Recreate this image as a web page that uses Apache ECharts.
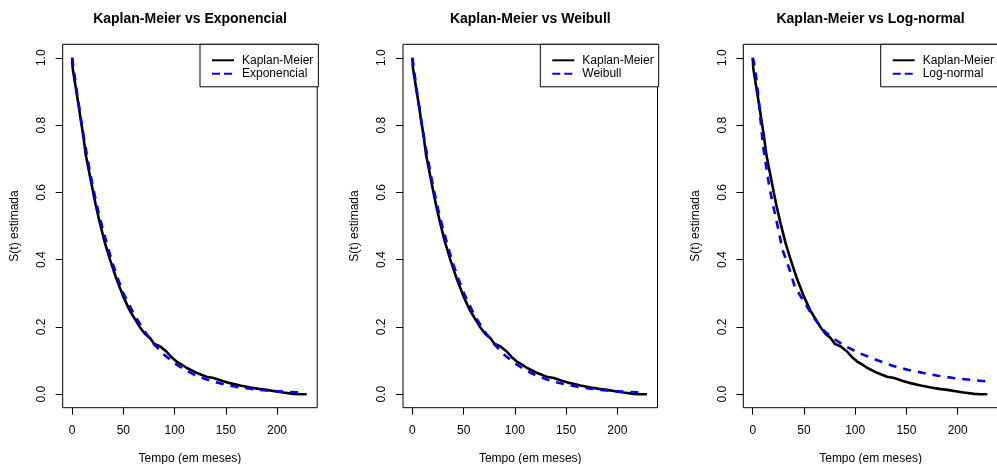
<!DOCTYPE html>
<html>
<head>
<meta charset="utf-8">
<script src="https://cdn.jsdelivr.net/npm/echarts@6/dist/echarts.min.js"></script>
<style>
  html, body { margin: 0; padding: 0; background: #fff; }
  #chart { width: 997px; height: 464px; }
</style>
</head>
<body>
<div id="chart"></div>
<script>
// Kaplan-Meier (mesmo em todos os painéis)
var kmTime = [0, 0.5, 1, 3.6, 6.8, 8.2, 10.8, 13.4, 17.3, 20.5, 23.2, 27, 32, 37, 43, 50, 56, 61, 66, 71, 76, 80, 86, 92, 97, 102, 107, 112, 122, 131, 138, 146, 154, 164, 174, 182, 190, 198, 206, 216, 222, 229];
var kmSurv = [1.0, 0.97, 0.96, 0.91, 0.85, 0.82, 0.77, 0.71, 0.65, 0.60, 0.56, 0.51, 0.45, 0.40, 0.345, 0.29, 0.25, 0.225, 0.20, 0.18, 0.167, 0.15, 0.142, 0.127, 0.11, 0.097, 0.088, 0.078, 0.063, 0.052, 0.048, 0.04, 0.033, 0.026, 0.020, 0.016, 0.013, 0.009, 0.005, 0.001, 0, 0];

// ajustes paramétricos
var fitTime = [0, 5, 10, 15, 20, 25, 30, 35, 40, 45, 50, 60, 70, 80, 90, 100, 110, 120, 130, 140, 150, 160, 170, 180, 190, 200, 210, 220, 227];
var expSurv = [1.0, 0.89, 0.79, 0.70, 0.62, 0.55, 0.49, 0.435, 0.385, 0.34, 0.30, 0.24, 0.19, 0.148, 0.117, 0.092, 0.073, 0.057, 0.045, 0.036, 0.028, 0.022, 0.018, 0.014, 0.011, 0.009, 0.007, 0.006, 0.005];
var weibSurv = [1.0, 0.885, 0.785, 0.70, 0.62, 0.55, 0.49, 0.435, 0.385, 0.342, 0.302, 0.238, 0.188, 0.148, 0.116, 0.092, 0.072, 0.057, 0.045, 0.036, 0.029, 0.023, 0.018, 0.014, 0.011, 0.009, 0.007, 0.006, 0.005];
var lnTime = [0, 1, 3, 5, 7.5, 10, 13, 16, 20, 25, 29, 36, 41, 49, 59, 69, 78, 91, 104, 121, 137, 152, 167, 181, 196, 212, 229];
var lnSurv = [1.0, 0.99, 0.95, 0.90, 0.82, 0.74, 0.68, 0.62, 0.56, 0.49, 0.43, 0.37, 0.32, 0.28, 0.23, 0.19, 0.167, 0.142, 0.122, 0.102, 0.084, 0.072, 0.063, 0.055, 0.048, 0.043, 0.038];

var titles = ["Kaplan-Meier vs Exponencial", "Kaplan-Meier vs Weibull", "Kaplan-Meier vs Log-normal"];
var fitNames = ["Exponencial", "Weibull", "Log-normal"];
var xTicks = [0, 50, 100, 150, 200];
var yTicks = [0, 0.2, 0.4, 0.6, 0.8, 1.0];

var gridLeft = [62.7, 403, 743.3];
var legendLeft = [200, 540.3, 880.7];
var font = "Liberation Sans, Arial, sans-serif";

function pairs(t, s) {
  var out = [];
  for (var i = 0; i < t.length; i++) out.push([t[i], s[i]]);
  return out;
}

var fits = [pairs(fitTime, expSurv), pairs(fitTime, weibSurv), pairs(lnTime, lnSurv)];
var km = pairs(kmTime, kmSurv);

var option = {
  animation: false,
  backgroundColor: "#fff",
  title: [], grid: [], xAxis: [], yAxis: [], legend: [], series: []
};

for (var p = 0; p < 3; p++) {
  option.title.push({
    text: titles[p], left: gridLeft[p] + 127.3, top: 12, textAlign: "center", padding: 0,
    textStyle: { fontFamily: font, fontSize: 14, fontWeight: "bold", color: "#000" }
  });
  option.grid.push({
    left: gridLeft[p], top: 44.3, width: 254.5, height: 363.4,
    outerBoundsMode: "none", containLabel: false,
    show: true, borderColor: "#000", borderWidth: 1, backgroundColor: "transparent"
  });
  option.xAxis.push({
    type: "value", gridIndex: p, min: -9.2, max: 239.2,
    name: "Tempo (em meses)", nameLocation: "middle", nameGap: 45,
    nameTextStyle: { fontFamily: font, fontSize: 12, color: "#000" },
    splitLine: { show: false }, axisLine: { show: false, onZero: false },
    axisTick: { show: true, length: 7, customValues: xTicks, lineStyle: { color: "#000" } },
    axisLabel: { customValues: xTicks, margin: 17, fontFamily: font, fontSize: 12, color: "#000" }
  });
  option.yAxis.push({
    type: "value", gridIndex: p, min: -0.04, max: 1.04,
    name: "S(t) estimada", nameLocation: "middle", nameGap: 42,
    nameTextStyle: { fontFamily: font, fontSize: 12, color: "#000" },
    splitLine: { show: false }, axisLine: { show: false, onZero: false },
    axisTick: { show: true, length: 7, customValues: yTicks, lineStyle: { color: "#000" } },
    axisLabel: {
      customValues: yTicks, rotate: 90, margin: 15, fontFamily: font, fontSize: 12, color: "#000",
      formatter: function (v) { return v.toFixed(1); }
    }
  });
  option.legend.push({
    data: [
      { name: "Kaplan-Meier", lineStyle: { type: "solid" } },
      { name: fitNames[p], lineStyle: { type: [8, 4] } }
    ],
    orient: "vertical",
    left: legendLeft[p], top: 44.3, padding: [10, 5, 7, 11], itemGap: 1.5,
    itemWidth: 22, itemHeight: 12, borderColor: "#000", borderWidth: 1, borderRadius: 0,
    backgroundColor: "#fff", selectedMode: false,
    itemStyle: { opacity: 0 },
    textStyle: { fontFamily: font, fontSize: 12, color: "#000", padding: [0, 0, 0, 3] }
  });
  option.series.push({
    name: "Kaplan-Meier", type: "line", xAxisIndex: p, yAxisIndex: p,
    data: km, symbol: "none", lineStyle: { color: "#000", width: 2.6 }, itemStyle: { color: "#000" }
  });
  option.series.push({
    name: fitNames[p], type: "line", xAxisIndex: p, yAxisIndex: p,
    data: fits[p], symbol: "none", z: 3,
    lineStyle: { color: "#0000ff", width: 2.6, type: [8, 7] }, itemStyle: { color: "#0000ff" }
  });
}

var myChart = echarts.init(document.getElementById("chart"), null, { renderer: "canvas" });
myChart.setOption(option);
</script>
</body>
</html>
